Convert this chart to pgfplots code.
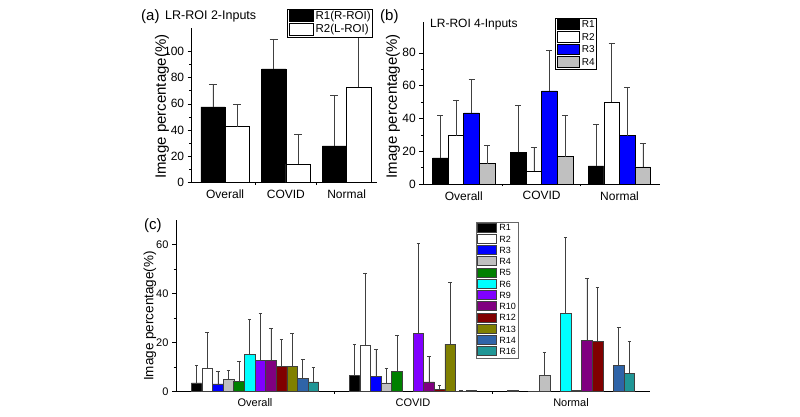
\documentclass[border=0pt]{standalone}
\usepackage{pgfplots}
\pgfplotsset{compat=1.18}
\usepackage{fontspec}
\setmainfont{Liberation Sans}
\definecolor{cR1}{RGB}{0,0,0}
\definecolor{cR2}{RGB}{255,255,255}
\definecolor{cR3}{RGB}{0,0,255}
\definecolor{cR4}{RGB}{192,192,192}
\definecolor{cR5}{RGB}{0,128,0}
\definecolor{cR6}{RGB}{0,255,255}
\definecolor{cR9}{RGB}{128,0,255}
\definecolor{cR10}{RGB}{128,0,128}
\definecolor{cR12}{RGB}{128,0,0}
\definecolor{cR13}{RGB}{128,128,0}
\definecolor{cR14}{RGB}{47,100,168}
\definecolor{cR16}{RGB}{32,150,150}
\pgfplotsset{
  myaxis/.style={
    scale only axis, anchor=south west,
    axis lines=left, axis line style={-, line width=0.7pt, black},
    tick align=outside, major tick length=4pt, minor tick length=2.5pt,
    tick style={line width=0.6pt, black},
    xtick={0,1,2}, xticklabels={Overall,COVID,Normal},
    major x tick style={draw=none},
    minor xtick={0.5,1.5},
    minor y tick num=1,
    ymin=0,
    /pgf/number format/assume math mode=true,
    clip=false,
    error bars/y dir=plus, error bars/y explicit,
    error bars/error mark=|,
    legend cell align=left,
  },
}
\begin{document}
\begin{tikzpicture}
\path[use as bounding box] (0pt,0pt) rectangle (800pt,417pt);

% ---------------- (a)
\begin{axis}[myaxis,
  at={(191.7pt,234.7pt)}, width=185.3pt, height=154.3pt,
  xmin=-0.55, xmax=2.5, ymax=118,
  ytick={0,20,40,60,80,100},
  tick label style={font=\fontsize{12}{12}\selectfont},
  ylabel={Image percentage(\%)},
  ylabel style={at={(axis description cs:-0.16,0.49)}, anchor=center, font=\fontsize{15}{15}\selectfont},
  error bars/error bar style={black!75, line width=0.6pt},
  error bars/error mark options={black!75, line width=0.6pt, mark size=4pt},
  legend image code/.code={\draw[#1] (0pt,-5pt) rectangle (24pt,6.5pt);},
  legend style={at={(0.513,1.123)}, anchor=north west, draw=black, line width=0.6pt,
    inner xsep=1.5pt, inner ysep=0.5pt, row sep=0pt,
    font=\fontsize{11.5}{12}\selectfont,
    nodes={inner sep=0.5pt, text height=9pt, text depth=3pt},
    /tikz/every odd column/.append style={column sep=2pt}},
  every axis plot/.append style={ybar, bar width=0.4, bar shift=0, draw=black, line width=0.6pt},
]
\addplot[fill=cR1]
  coordinates {(-0.2,57.7) +- (0,17.6) (0.8,86.7) +- (0,23.0) (1.8,27.8) +- (0,38.8)};
\addlegendentry{R1(R-ROI)}
\addplot[fill=cR2]
  coordinates {(0.2,42.6) +- (0,17.1) (1.2,13.8) +- (0,23.2) (2.2,72.7) +- (0,38.3)};
\addlegendentry{R2(L-ROI)}
\end{axis}

% ---------------- (b)
\begin{axis}[myaxis,
  at={(423.3pt,233pt)}, width=236.7pt, height=162.3pt,
  xmin=-0.52, xmax=2.52, ymax=99,
  ytick={0,20,40,60,80},
  tick label style={font=\fontsize{12}{12}\selectfont},
  ylabel={Image percentage(\%)},
  ylabel style={at={(axis description cs:-0.128,0.48)}, anchor=center, font=\fontsize{15}{15}\selectfont},
  error bars/error bar style={black!75, line width=0.6pt},
  error bars/error mark options={black!75, line width=0.6pt, mark size=3pt},
  legend image code/.code={\draw[#1] (0pt,-4.5pt) rectangle (22pt,6pt);},
  legend style={at={(0.556,1.023)}, anchor=north west, draw=black, line width=0.6pt,
    inner xsep=1.5pt, inner ysep=0.5pt, row sep=0pt,
    font=\fontsize{10}{11}\selectfont,
    nodes={inner sep=0.5pt, text height=8.5pt, text depth=3pt},
    /tikz/every odd column/.append style={column sep=2pt}},
  every axis plot/.append style={ybar, bar width=0.2, bar shift=0, draw=black, line width=0.6pt},
]
\addplot[fill=cR1]
  coordinates {(-0.3,15.9) +- (0,25.8) (0.7,19.3) +- (0,28.7) (1.7,11.0) +- (0,25.2)};
\addlegendentry{R1}
\addplot[fill=cR2]
  coordinates {(-0.1,29.5) +- (0,21.8) (0.9,7.9) +- (0,14.5) (1.9,50.1) +- (0,36.0)};
\addlegendentry{R2}
\addplot[fill=cR3]
  coordinates {(0.1,43.4) +- (0,20.3) (1.1,56.8) +- (0,24.6) (2.1,29.5) +- (0,29.5)};
\addlegendentry{R3}
\addplot[fill=cR4]
  coordinates {(0.3,12.4) +- (0,11.0) (1.3,16.7) +- (0,25.0) (2.3,10.4) +- (0,14.6)};
\addlegendentry{R4}
\end{axis}

% ---------------- (c)
\begin{axis}[myaxis,
  at={(176pt,25.7pt)}, width=474pt, height=171.3pt,
  xmin=-0.5, xmax=2.5, ymax=70,
  ytick={0,20,40,60},
  tick label style={font=\fontsize{11}{11}\selectfont},
  ylabel={Image percentage(\%)},
  ylabel style={at={(axis description cs:-0.055,0.44)}, anchor=center, font=\fontsize{13.5}{14}\selectfont},
  error bars/error bar style={black!75, line width=0.6pt},
  error bars/error mark options={black!75, line width=0.6pt, mark size=1.8pt},
  legend image code/.code={\draw[#1] (0pt,-3.5pt) rectangle (19pt,5.5pt);},
  legend style={at={(0.632,0.99)}, anchor=north west, draw=black!60, line width=0.6pt,
    inner xsep=1.5pt, inner ysep=0.5pt, row sep=0pt,
    font=\fontsize{9}{10}\selectfont,
    nodes={inner sep=0.5pt, text height=7.5pt, text depth=2.5pt},
    /tikz/every odd column/.append style={column sep=2pt}},
  every axis plot/.append style={ybar, bar width=0.0671, bar shift=0, draw=black!75, line width=0.5pt},
]
\addplot[fill=cR1] coordinates {(-0.369,3.4) +- (0,7.1) (0.631,6.5) +- (0,12.8) (1.631,0.3) +- (0,0.1)};
\addlegendentry{R1}
\addplot[fill=cR2] coordinates {(-0.302,9.4) +- (0,14.7) (0.698,19.0) +- (0,29.4)};
\addlegendentry{R2}
\addplot[fill=cR3] coordinates {(-0.235,3.0) +- (0,5.2) (0.765,6.0) +- (0,11.0) (1.765,0.1) +- (0,0.1)};
\addlegendentry{R3}
\addplot[fill=cR4] coordinates {(-0.168,4.9) +- (0,3.8) (0.832,3.4) +- (0,6.1) (1.832,6.4) +- (0,9.6)};
\addlegendentry{R4}
\addplot[fill=cR5] coordinates {(-0.101,4.1) +- (0,8.0) (0.899,8.0) +- (0,14.7)};
\addlegendentry{R5}
\addplot[fill=cR6] coordinates {(-0.034,15.0) +- (0,14.4) (1.966,31.8) +- (0,31.0)};
\addlegendentry{R6}
\addplot[fill=cR9] coordinates {(0.034,12.5) +- (0,19.3) (1.034,23.7) +- (0,36.9) (2.034,0.3) +- (0,0.2)};
\addlegendentry{R9}
\addplot[fill=cR10] coordinates {(0.101,12.5) +- (0,13.4) (1.101,3.9) +- (0,10.2) (2.101,20.8) +- (0,25.3)};
\addlegendentry{R10}
\addplot[fill=cR12] coordinates {(0.168,10.2) +- (0,10.9) (1.168,0.9) +- (0,1.7) (2.168,20.3) +- (0,22.3)};
\addlegendentry{R12}
\addplot[fill=cR13] coordinates {(0.235,10.1) +- (0,13.6) (1.235,19.3) +- (0,25.4)};
\addlegendentry{R13}
\addplot[fill=cR14] coordinates {(0.302,5.3) +- (0,7.8) (1.302,0.1) +- (0,0.2) (2.302,10.5) +- (0,15.5)};
\addlegendentry{R14}
\addplot[fill=cR16] coordinates {(0.369,3.8) +- (0,5.9) (1.369,0.3) +- (0,0.2) (2.369,7.3) +- (0,13.0)};
\addlegendentry{R16}
\end{axis}

% ---------------- panel titles
\node[anchor=west, inner sep=0pt, font=\fontsize{15}{15}\selectfont] at (141pt,400.5pt) {(a)};
\node[anchor=west, inner sep=0pt, font=\fontsize{12.5}{13}\selectfont] at (165pt,400.5pt) {LR-ROI 2-Inputs};
\node[anchor=west, inner sep=0pt, font=\fontsize{15}{15}\selectfont] at (380pt,400.5pt) {(b)};
\node[anchor=west, inner sep=0pt, font=\fontsize{12}{12}\selectfont] at (430pt,392pt) {LR-ROI 4-Inputs};
\node[anchor=west, inner sep=0pt, font=\fontsize{15}{15}\selectfont] at (144pt,191pt) {(c)};
\end{tikzpicture}
\end{document}
